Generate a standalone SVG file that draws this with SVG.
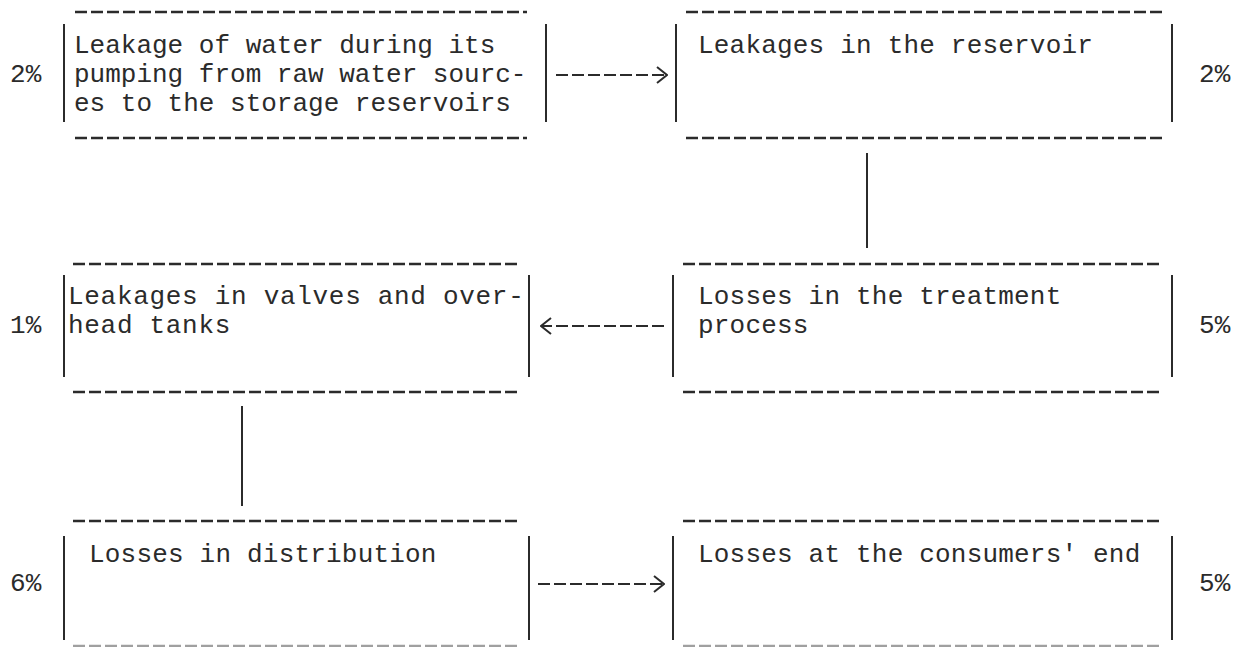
<svg xmlns="http://www.w3.org/2000/svg" width="1244" height="647" viewBox="0 0 1244 647">
<style>
text{font-family:"Liberation Mono","DejaVu Sans Mono",monospace;font-size:26px;fill:#2b2b2b;letter-spacing:0.2px}
.dash{stroke:#2b2b2b;stroke-width:2.4;stroke-dasharray:12 4;fill:none}
.bar{stroke:#2b2b2b;stroke-width:2;fill:none}
.conn{stroke:#2b2b2b;stroke-width:2.2;stroke-dasharray:12 4;fill:none}
.vline{stroke:#2b2b2b;stroke-width:2;fill:none}
</style>
<defs>
<marker id="chev" viewBox="0 0 12 18" refX="11" refY="9" markerWidth="12" markerHeight="18" markerUnits="userSpaceOnUse" orient="auto">
<path d="M1,1 L11,9 L1,17" fill="none" stroke="#2b2b2b" stroke-width="2"/>
</marker>
</defs>
<rect width="1244" height="647" fill="#ffffff"/>

<g id="node-pumping">
<line class="dash" x1="75" y1="12" x2="527" y2="12"/>
<line class="dash" x1="75" y1="138" x2="527" y2="138"/>
<line class="bar" x1="64" y1="24" x2="64" y2="122"/>
<line class="bar" x1="546" y1="24" x2="546" y2="122"/>
<text x="74" y="53" style="letter-spacing:0px">Leakage of water during its</text>
<text x="74" y="82" style="letter-spacing:0px">pumping from raw water sourc-</text>
<text x="74" y="111" style="letter-spacing:0px">es to the storage reservoirs</text>
<text x="10" y="82">2%</text>
</g>

<g id="node-reservoir">
<line class="dash" x1="686" y1="12" x2="1163" y2="12"/>
<line class="dash" x1="686" y1="138" x2="1163" y2="138"/>
<line class="bar" x1="676" y1="24" x2="676" y2="122"/>
<line class="bar" x1="1172" y1="24" x2="1172" y2="122"/>
<text x="698" y="53">Leakages in the reservoir</text>
<text x="1199" y="82">2%</text>
</g>

<g id="node-valves">
<line class="dash" x1="73" y1="264" x2="519" y2="264"/>
<line class="dash" x1="73" y1="392" x2="519" y2="392"/>
<line class="bar" x1="64" y1="275" x2="64" y2="377"/>
<line class="bar" x1="529" y1="275" x2="529" y2="377"/>
<text x="68" y="304" style="letter-spacing:0.7px">Leakages in valves and over-</text>
<text x="68" y="333" style="letter-spacing:0.7px">head tanks</text>
<text x="10" y="333">1%</text>
</g>

<g id="node-treatment">
<line class="dash" x1="683" y1="264" x2="1163" y2="264"/>
<line class="dash" x1="683" y1="392" x2="1163" y2="392"/>
<line class="bar" x1="673" y1="275" x2="673" y2="377"/>
<line class="bar" x1="1172" y1="275" x2="1172" y2="377"/>
<text x="698" y="304">Losses in the treatment</text>
<text x="698" y="333">process</text>
<text x="1199" y="333">5%</text>
</g>

<g id="node-distribution">
<line class="dash" x1="73" y1="521" x2="519" y2="521"/>
<line class="dash" x1="73" y1="646" x2="519" y2="646" style="stroke:#a0a0a0"/>
<line class="bar" x1="64" y1="536" x2="64" y2="640"/>
<line class="bar" x1="529" y1="536" x2="529" y2="640"/>
<text x="89" y="562">Losses in distribution</text>
<text x="10" y="591">6%</text>
</g>

<g id="node-consumers">
<line class="dash" x1="683" y1="521" x2="1163" y2="521"/>
<line class="dash" x1="683" y1="646" x2="1163" y2="646" style="stroke:#a0a0a0"/>
<line class="bar" x1="673" y1="536" x2="673" y2="640"/>
<line class="bar" x1="1172" y1="536" x2="1172" y2="640"/>
<text x="698" y="562">Losses at the consumers' end</text>
<text x="1199" y="591">5%</text>
</g>

<g id="connectors">
<line class="conn" x1="556" y1="75" x2="667" y2="75" marker-end="url(#chev)"/>
<line class="vline" x1="867" y1="153" x2="867" y2="248"/>
<line class="conn" x1="664" y1="326" x2="541" y2="326" marker-end="url(#chev)"/>
<line class="vline" x1="242" y1="406" x2="242" y2="506"/>
<line class="conn" x1="538" y1="584" x2="664" y2="584" marker-end="url(#chev)"/>
</g>
</svg>
